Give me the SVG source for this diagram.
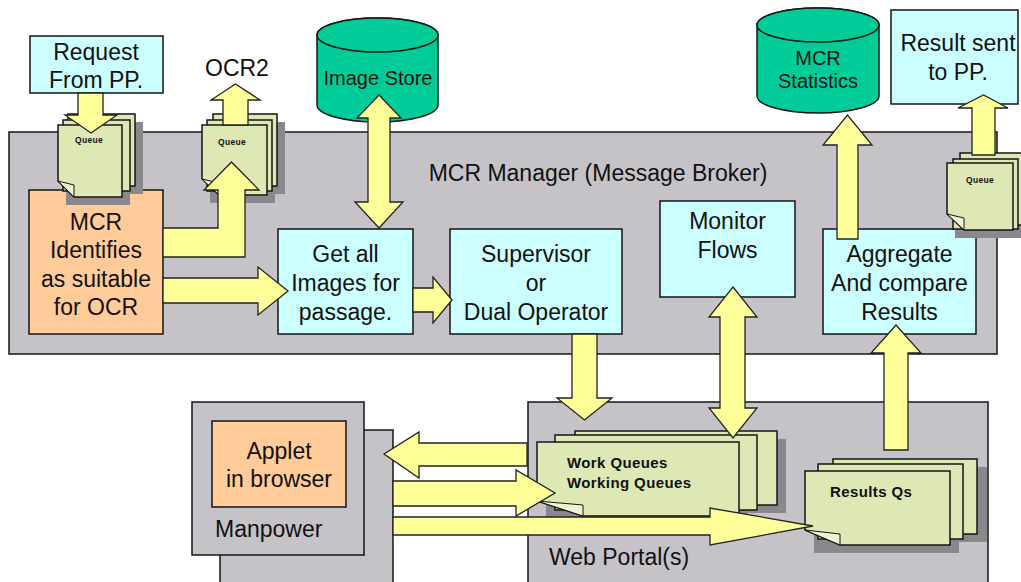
<svg xmlns="http://www.w3.org/2000/svg" width="1021" height="582" viewBox="0 0 1021 582">
<style>
.box{stroke:#151515;stroke-width:1.5}
.gray{fill:#c6c3c8}
.cyan{fill:#ccffff}
.orange{fill:#ffcc99}
.cyl{fill:#00cc99;stroke:#151515;stroke-width:1.5}
.page{fill:#dde8b5;stroke:#151515;stroke-width:1.5}
.flap{fill:#eef4d2;stroke:#151515;stroke-width:1}
.shadow{fill:#8a888c}
.arr{fill:#ffff99;stroke:#222;stroke-width:1.3;stroke-linejoin:miter}
text{font-family:"Liberation Sans",Arial,sans-serif;fill:#111}
.t{font-size:23px;text-anchor:middle}
.ts{font-size:20px;text-anchor:middle}
.tl{font-size:23px}
.q{font-size:15px;font-weight:bold;letter-spacing:0.4px}
.tiny{font-size:8.5px;font-weight:bold;letter-spacing:0.3px}
</style>

<g id="mcr-manager">
  <rect class="box gray" x="9" y="132" width="988" height="222"/>
  <text class="t" x="598" y="181">MCR Manager (Message Broker)</text>
</g>

<g id="web-portal">
  <rect class="box gray" x="528" y="402" width="460" height="192"/>
  <text class="tl" x="549" y="565">Web Portal(s)</text>
</g>

<g id="manpower">
  <rect class="box gray" x="220" y="430" width="173" height="165"/>
  <rect class="box gray" x="192" y="402" width="172" height="153"/>
  <text class="tl" x="215" y="537">Manpower</text>
</g>

<g id="applet">
  <rect class="box orange" x="212" y="421" width="134" height="86"/>
  <text class="t" x="279" y="459">Applet</text>
  <text class="t" x="279" y="487">in browser</text>
</g>

<g id="request">
  <rect class="box cyan" x="30" y="36" width="133" height="57"/>
  <text class="t" x="96" y="60">Request</text>
  <text class="t" x="96" y="88">From PP.</text>
</g>

<g id="ocr2">
  <text class="tl" x="205" y="76">OCR2</text>
</g>

<g id="mcr-identifies">
  <rect class="box orange" x="29" y="190" width="134" height="144"/>
  <text class="t" x="96" y="230">MCR</text>
  <text class="t" x="96" y="258">Identifies</text>
  <text class="t" x="96" y="287">as suitable</text>
  <text class="t" x="96" y="315">for OCR</text>
</g>

<g id="get-images">
  <rect class="box cyan" x="278" y="229" width="135" height="105"/>
  <text class="t" x="345.5" y="262">Get all</text>
  <text class="t" x="345.5" y="291">Images for</text>
  <text class="t" x="345.5" y="320">passage.</text>
</g>

<g id="supervisor">
  <rect class="box cyan" x="450" y="229" width="172" height="105"/>
  <text class="t" x="536" y="262">Supervisor</text>
  <text class="t" x="536" y="291">or</text>
  <text class="t" x="536" y="320">Dual Operator</text>
</g>

<g id="monitor">
  <rect class="box cyan" x="660" y="201" width="135" height="96"/>
  <text class="t" x="727.5" y="229">Monitor</text>
  <text class="t" x="727.5" y="258">Flows</text>
</g>

<g id="aggregate">
  <rect class="box cyan" x="823" y="229" width="153" height="105"/>
  <text class="t" x="899.5" y="262">Aggregate</text>
  <text class="t" x="899.5" y="291">And compare</text>
  <text class="t" x="899.5" y="320">Results</text>
</g>

<g id="result-sent">
  <rect class="box cyan" x="891" y="10" width="127" height="94"/>
  <text class="t" x="958" y="51">Result sent</text>
  <text class="t" x="958" y="80">to PP.</text>
</g>

<g id="image-store">
  <path class="cyl" d="M317,35 V105 A60.5,17 0 0 0 438,105 V35 A60.5,17 0 0 0 317,35 Z"/>
  <ellipse class="cyl" cx="377.5" cy="35" rx="60.5" ry="17"/>
  <text class="ts" x="378" y="85">Image Store</text>
</g>

<g id="mcr-statistics">
  <path class="cyl" d="M757,25 V96 A61,17 0 0 0 879,96 V25 A61,17 0 0 0 757,25 Z"/>
  <ellipse class="cyl" cx="818" cy="25" rx="61" ry="17"/>
  <text class="ts" x="818" y="65">MCR</text>
  <text class="ts" x="818" y="88">Statistics</text>
</g>

<g id="queue-in">
  <rect class="shadow" x="76" y="122" width="67" height="72"/>
  <rect class="shadow" x="66" y="133" width="64" height="72"/>
  <rect class="page" x="68" y="114" width="67" height="72"/>
  <rect class="page" x="63" y="120" width="67" height="71"/>
  <path class="page" d="M58,125 H122 V197 H74 L58,181 Z"/>
  <path class="flap" d="M58,181 L74,185 L74,197 Z"/>
  <text class="tiny" x="75" y="143">Queue</text>
</g>

<g id="queue-ocr2">
  <rect class="shadow" x="221" y="122" width="64" height="72"/>
  <rect class="shadow" x="210" y="133" width="65" height="70"/>
  <rect class="page" x="213" y="114" width="64" height="72"/>
  <rect class="page" x="207" y="120" width="65" height="71"/>
  <path class="page" d="M202,125 H267 V195 H219 L202,179 Z"/>
  <path class="flap" d="M202,179 L219,183 L219,195 Z"/>
  <text class="tiny" x="218" y="145">Queue</text>
</g>

<g id="queue-out">
  <rect class="shadow" x="968" y="161" width="62" height="72"/>
  <rect class="shadow" x="955" y="171" width="66" height="67"/>
  <rect class="page" x="960" y="153" width="64" height="72"/>
  <rect class="page" x="953" y="159" width="65" height="70"/>
  <path class="page" d="M947,163 H1013 V230 H964 L947,214 Z"/>
  <path class="flap" d="M947,214 L964,218 L964,230 Z"/>
  <text class="tiny" x="966" y="183">Queue</text>
</g>

<g id="work-queues">
  <rect class="shadow" x="584" y="439" width="202" height="74"/>
  <rect class="shadow" x="546" y="450" width="202" height="74"/>
  <rect class="page" x="575" y="431" width="202" height="74"/>
  <rect class="page" x="555" y="435" width="202" height="75"/>
  <path class="page" d="M537,442 H739 V516 H583 L537,501 Z"/>
  <path class="flap" d="M537,501 L583,505 L583,516 Z"/>
  <text class="q" x="567" y="468">Work Queues</text>
  <text class="q" x="567" y="488">Working Queues</text>
</g>

<g id="results-qs">
  <rect class="shadow" x="842" y="467" width="145" height="75"/>
  <rect class="shadow" x="814" y="479" width="145" height="74"/>
  <rect class="page" x="833" y="459" width="144" height="75"/>
  <rect class="page" x="818" y="464" width="145" height="75"/>
  <path class="page" d="M805,471 H950 V545 H840 L805,530 Z"/>
  <path class="flap" d="M805,530 L840,534 L840,545 Z"/>
  <text class="q" x="830" y="497">Results Qs</text>
</g>

<g id="connectors">
  <polygon class="arr" points="78,93 103,93 103,115 117,115 91,133 65,115 78,115"/>
  <polygon class="arr" points="223,125 223,100 211,100 235.5,84 260,100 248,100 248,125"/>
  <polygon class="arr" points="163,228 218,228 218,190 204,190 231.5,162 259,190 245,190 245,257 163,257"/>
  <polygon class="arr" points="163,278 258,278 258,267 288,291 258,315 258,303 163,303"/>
  <polygon class="arr" points="379,95 401,118 390,118 390,202 403,202 379,228 355,202 368,202 368,118 357,118"/>
  <polygon class="arr" points="413,288 433,288 433,277 452,300 433,323 433,312 413,312"/>
  <polygon class="arr" points="572,334 597,334 597,398 612,398 584.5,420 557,398 572,398"/>
  <polygon class="arr" points="733,287 757,317 745,317 745,408 757,408 733,438 709,408 720,408 720,317 709,317"/>
  <polygon class="arr" points="837,239 837,145 823,145 847.5,115 872,145 858,145 858,239"/>
  <polygon class="arr" points="972,155 972,108 958,108 983.5,95 1008,108 995,108 995,155"/>
  <polygon class="arr" points="884,450 884,353 871,353 896,325 921,353 908,353 908,450"/>
  <polygon class="arr" points="527,443 419,443 419,432 384,454 419,478 419,466 527,466"/>
  <polygon class="arr" points="393,481 516,481 516,470 555,493 516,516 516,506 393,506"/>
  <polygon class="arr" points="393,517 710,517 710,508 813,526 710,545 710,535 393,535"/>
</g>
</svg>
